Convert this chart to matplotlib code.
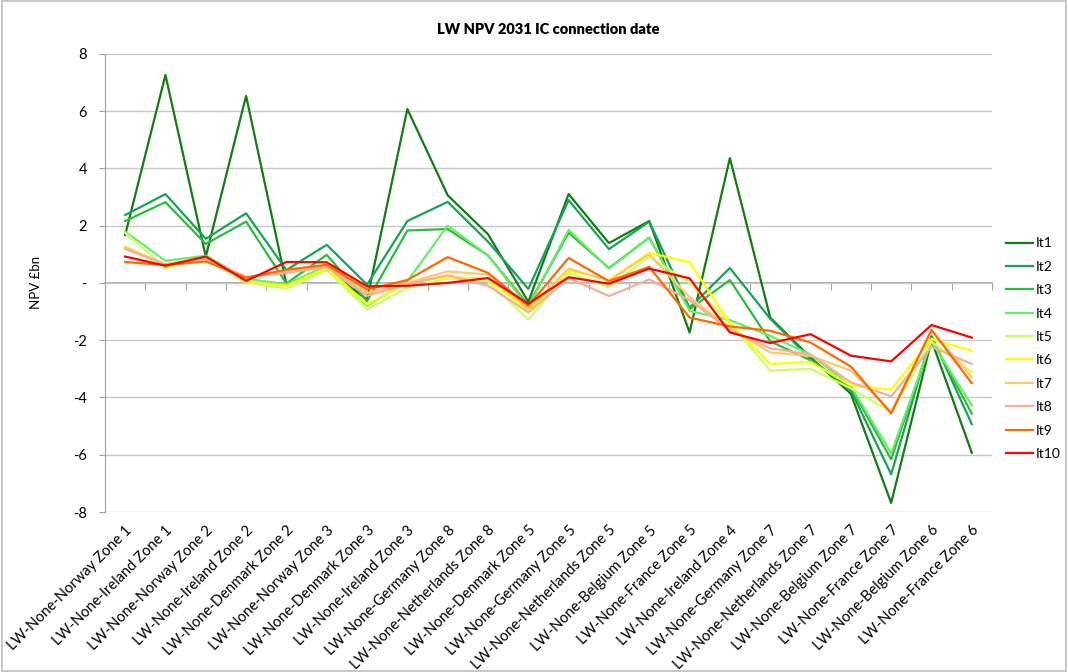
import matplotlib.pyplot as plt
import matplotlib.patches as mpatches
import numpy as np

plt.rcParams['font.family'] = ['Lato', 'DejaVu Sans']

# Data
categories = ["LW-None-Norway Zone 1", "LW-None-Ireland Zone 1", "LW-None-Norway Zone 2",
              "LW-None-Ireland Zone 2", "LW-None-Denmark Zone 2", "LW-None-Norway Zone 3",
              "LW-None-Denmark Zone 3", "LW-None-Ireland Zone 3", "LW-None-Germany Zone 8",
              "LW-None-Netherlands Zone 8", "LW-None-Denmark Zone 5", "LW-None-Germany Zone 5",
              "LW-None-Netherlands Zone 5", "LW-None-Belgium Zone 5", "LW-None-France Zone 5",
              "LW-None-Ireland Zone 4", "LW-None-Germany Zone 7", "LW-None-Netherlands Zone 7",
              "LW-None-Belgium Zone 7", "LW-None-France Zone 7", "LW-None-Belgium Zone 6",
              "LW-None-France Zone 6"]

it1  = [1.67, 7.26, 0.92, 6.53, -0.05, 0.46, -0.58, 6.07, 3.06, 1.70, -0.66, 3.10, 1.39, 2.16, -1.73, 4.36, -1.21, -2.60, -3.87, -7.68, -2.00, -5.93]
it2  = [2.37, 3.10, 1.54, 2.43, 0.45, 1.33, -0.06, 2.16, 2.83, 1.44, -0.21, 2.89, 1.18, 2.14, -0.87, 0.52, -1.25, -2.65, -3.75, -6.68, -1.85, -4.93]
it3  = [2.16, 2.82, 1.36, 2.14, -0.02, 0.98, -0.64, 1.83, 1.88, 0.96, -0.77, 1.75, 0.52, 1.58, -0.92, 0.10, -2.04, -2.70, -3.65, -6.16, -1.95, -4.56]
it4  = [1.79, 0.77, 0.95, 0.15, -0.05, 0.60, -0.80, 0.05, 2.00, 0.96, -0.85, 1.85, 0.50, 1.58, -0.98, -1.30, -1.85, -2.50, -3.60, -5.95, -2.04, -4.28]
it5  = [1.75, 0.52, 0.88, 0.02, -0.20, 0.46, -0.92, -0.17, 0.15, 0.06, -1.27, 0.35, -0.15, 0.92, 0.00, -1.40, -3.06, -3.00, -3.68, -4.50, -2.05, -3.12]
it6  = [1.27, 0.58, 0.86, 0.05, -0.10, 0.52, -0.75, 0.00, 0.20, 0.15, -0.98, 0.43, 0.10, 1.05, 0.72, -1.40, -2.83, -2.76, -3.58, -3.72, -1.96, -2.37]
it7  = [1.25, 0.65, 0.85, 0.20, 0.40, 0.58, -0.35, 0.00, 0.40, 0.29, -0.90, 0.50, 0.08, 1.00, -0.50, -1.58, -2.43, -2.55, -3.06, -4.50, -1.67, -3.29]
it8  = [1.18, 0.65, 0.85, 0.20, 0.35, 0.55, -0.45, -0.05, 0.27, -0.10, -1.03, 0.17, -0.46, 0.12, -0.60, -1.65, -2.28, -2.50, -3.47, -3.96, -2.23, -2.83]
it9  = [0.73, 0.62, 0.75, 0.18, 0.46, 0.63, -0.23, 0.10, 0.90, 0.35, -0.80, 0.87, 0.06, 0.56, -1.21, -1.52, -1.67, -2.08, -2.92, -4.56, -1.64, -3.50]
it10 = [0.92, 0.60, 0.92, 0.07, 0.73, 0.72, -0.12, -0.10, 0.00, 0.17, -0.73, 0.20, -0.03, 0.50, 0.16, -1.73, -2.10, -1.79, -2.54, -2.74, -1.47, -1.91]

series_names = ["It1", "It2", "It3", "It4", "It5", "It6", "It7", "It8", "It9", "It10"]
series       = [it1, it2, it3, it4, it5, it6, it7, it8, it9, it10]
colors       = ["#127D12", "#17A356", "#2DBB3A", "#66EE66", "#CCFF66",
                "#FFFF00", "#FFC86A", "#F2B09A", "#FF6A00", "#FF0000"]

yticks       = [8, 6, 4, 2, 0, -2, -4, -6, -8]
ytick_labels = ["8", "6", "4", "2", "-", "-2", "-4", "-6", "-8"]

# Figure
fig = plt.figure(figsize=(10.68, 6.72), dpi=100)
ax  = fig.add_axes([0.0983, 0.238, 0.8305, 0.682])

x = np.arange(len(categories))
for name, vals, col in zip(series_names, series, colors):
    ax.plot(x, vals, color=col, lw=1.6, label=name)

ax.set_xlim(-0.5, len(categories) - 0.5)
ax.set_ylim(-8, 8)

# Y axis
ax.set_yticks(yticks)
ax.set_yticklabels(ytick_labels, fontsize=10.5)
ax.yaxis.grid(True, color="#C8C8C8", lw=1.0)
ax.set_axisbelow(True)
ax.tick_params(axis="y", direction="out", length=4, color="#A0A0A0", pad=9)
ax.set_ylabel("NPV £bn", fontsize=9.5, labelpad=22)

for s in ["top", "right", "bottom"]:
    ax.spines[s].set_visible(False)
ax.spines["left"].set_color("#A0A0A0")

# Category labels along the bottom
ax.set_xticks(x)
ax.set_xticklabels(categories, rotation=45, ha="right", va="top",
                   rotation_mode="anchor", fontsize=10.5)
ax.tick_params(axis="x", length=0, pad=8)

# Category axis crossing at zero with marks between categories
sec = ax.secondary_xaxis(0, transform=ax.transData)
sec.set_xticks(np.arange(len(categories) + 1) - 0.5)
sec.tick_params(axis="x", direction="out", length=5, color="#A0A0A0", labelbottom=False)
sec.spines["bottom"].set_color("#A0A0A0")
sec.spines["bottom"].set_linewidth(1.2)

ax.set_title("LW NPV 2031 IC connection date", fontsize=10.5, fontweight="heavy", pad=14)

# Legend
ax.legend(loc="upper left", bbox_to_anchor=(0.937, 0.655), bbox_transform=fig.transFigure,
          frameon=False, fontsize=10, handlelength=1.9, handletextpad=0.2,
          labelspacing=0.82, borderaxespad=0)

# Chart border
fig.patches.append(mpatches.Rectangle((0.002, 0.002), 0.996, 0.996, transform=fig.transFigure,
                                      fill=False, edgecolor="#BDBDBD", lw=1.2))

fig.savefig("out.png", dpi=100)
